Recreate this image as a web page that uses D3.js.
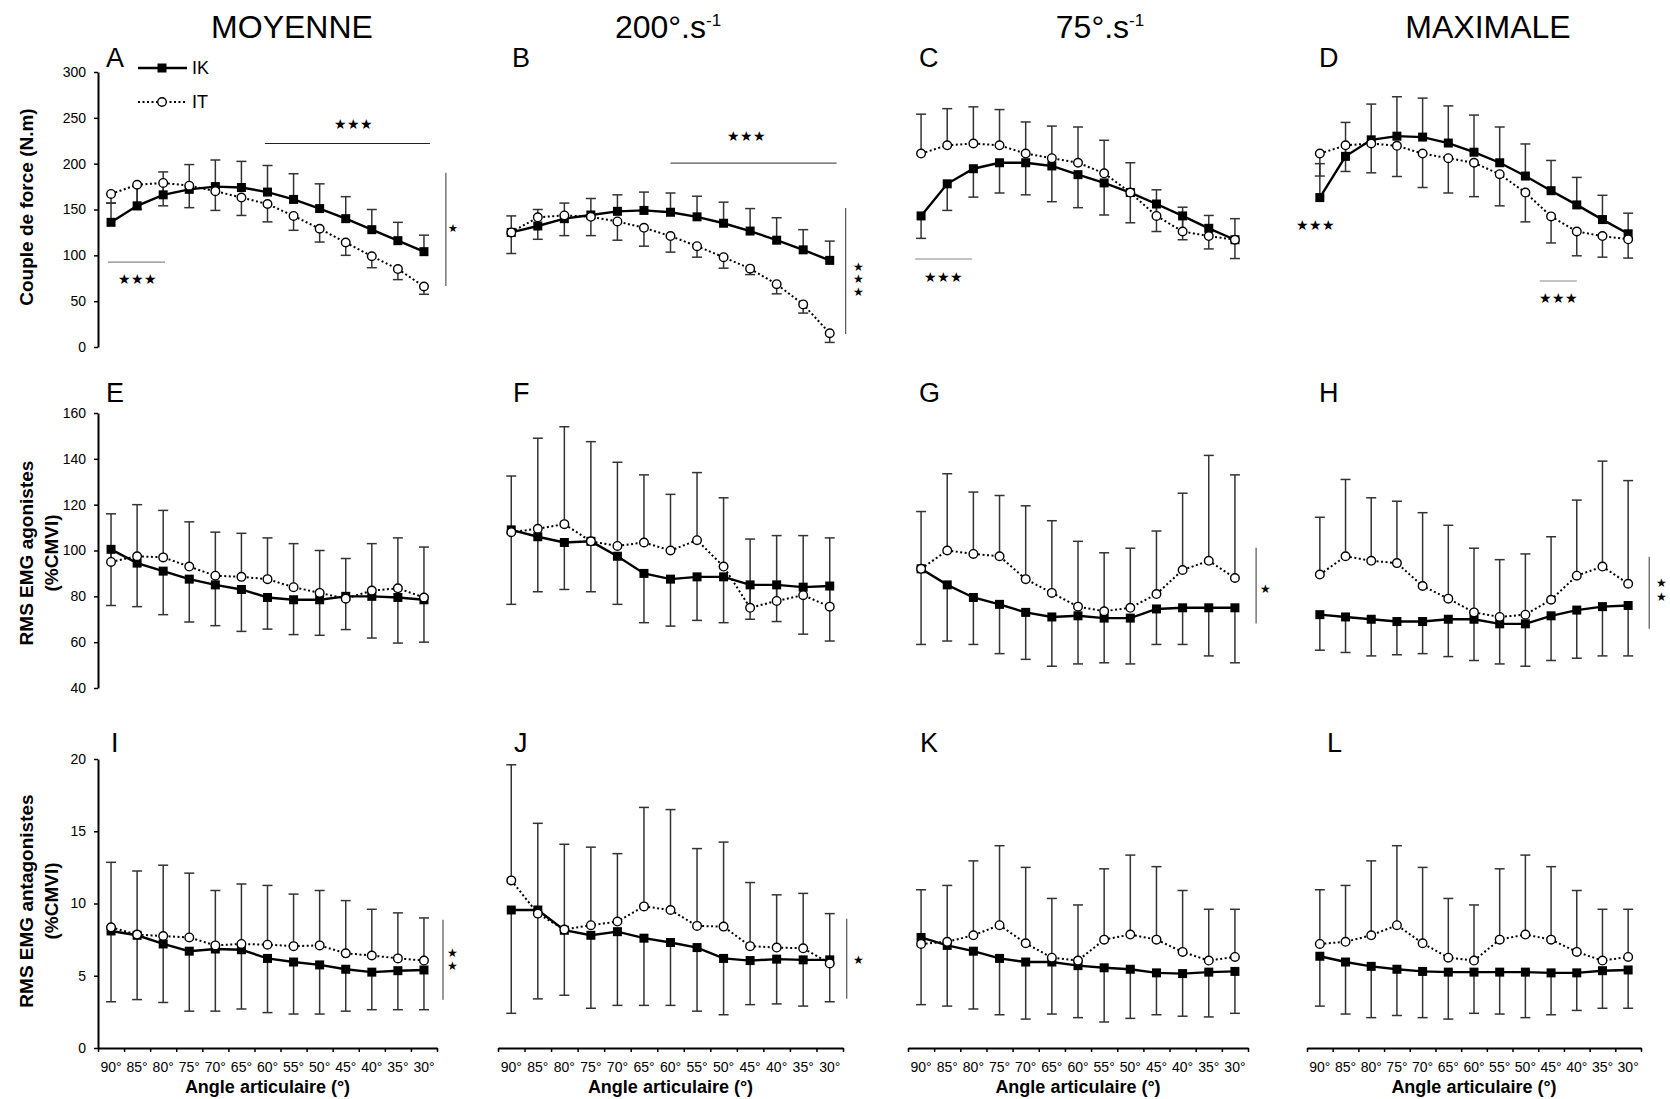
<!DOCTYPE html>
<html>
<head>
<meta charset="utf-8">
<script src="https://cdn.jsdelivr.net/npm/d3@7"></script>
<style>
  html, body { margin: 0; padding: 0; background: #fff; }
  svg text { font-family: "Liberation Sans", Arial, Helvetica, sans-serif; fill: #000; }
</style>
</head>
<body>
<svg id="fig" width="1670" height="1099"></svg>
<script>
// ---------- categories & labels ----------
const angles = ["90°", "85°", "80°", "75°", "70°", "65°", "60°", "55°", "50°", "45°", "40°", "35°", "30°"];
const columnTitles = [
  { main: "MOYENNE", sup: "" },
  { main: "200°.s", sup: "-1" },
  { main: "75°.s", sup: "-1" },
  { main: "MAXIMALE", sup: "" }
];
const panelLetters = ["A", "B", "C", "D", "E", "F", "G", "H", "I", "J", "K", "L"];
const torqueTicks = [0, 50, 100, 150, 200, 250, 300];
const agonistTicks = [40, 60, 80, 100, 120, 140, 160];
const antagonistTicks = [0, 5, 10, 15, 20];
const seriesNames = ["IK", "IT"];

// ---------- Couple de force (N.m) ----------
const ikA    = [136, 154, 166, 172, 175, 174, 169, 161, 151, 140, 128, 116, 104];
const ikA_sd = [21, 22, 25, 27, 29, 28.5, 29, 28, 27, 24, 22, 20, 18];
const itA    = [167, 177, 179, 176, 170, 163, 156, 143, 129, 114, 99, 85, 66];
const itA_sd = [10, 27, 25, 24, 21, 19.5, 19.5, 15.7, 14.5, 14, 12.5, 11.5, 8.5];

const ikB    = [125, 132, 140, 144, 148, 149, 147, 142, 135, 126.5, 116.5, 106, 94.5];
const ikB_sd = [18, 18, 17, 18, 18, 20, 21, 22.5, 23, 24.5, 24.5, 22, 21];
const itB    = [125, 141.5, 143.5, 142, 137, 130, 121, 110, 98, 85.5, 68.5, 46.5, 15];
const itB_sd = [23, 24, 22, 20.5, 20.5, 20, 17.5, 12, 12, 6.5, 10.5, 9.5, 10];

const ikC    = [143, 178, 194.5, 201, 201, 197.5, 188, 179, 168.5, 156, 143, 129.5, 117];
const ikC_sd = [24.5, 29, 31, 33, 35, 39, 36, 35, 33, 30, 26, 22.5, 20.5];
const itC    = [211, 220, 222, 220, 211, 206, 201, 189.5, 168.5, 143, 126, 121, 117];
const itC_sd = [43, 40, 40, 39, 34.5, 35, 39, 36, 32.5, 28.5, 26.5, 22.5, 23];

const ikD    = [163, 208, 226, 230, 229, 222.5, 212.5, 201, 186.5, 170.5, 155, 139, 123.5];
const ikD_sd = [37, 37, 39, 43, 42.5, 40.5, 40.5, 39, 35, 33, 30, 26.5, 22.5];
const itD    = [211, 220, 222, 219.5, 211, 206, 201, 188.5, 168.5, 142.5, 126, 121, 117.5];
const itD_sd = [24.5, 28.5, 32, 33.5, 37, 38, 37, 34.5, 32, 29, 26.5, 23, 20.5];

// ---------- RMS EMG agonistes (%CMVI) ----------
const ikE    = [100.5, 94.5, 91, 87.5, 85, 83, 79.5, 78.5, 78.5, 80, 80, 79.5, 78.5];
const ikE_sd = [24.5, 19, 19, 18.7, 17.8, 18.3, 13.8, 15.2, 15.5, 14.5, 18.2, 19.9, 18.5];
const itE    = [95, 97.5, 97, 93, 89, 88.5, 87.5, 84, 81.5, 79, 82.5, 83.5, 79.5];
const itE_sd = [21, 22.5, 20.5, 19.5, 19, 19, 18, 19, 18.5, 17.5, 20.5, 22, 22];

const ikF    = [109, 106, 103.5, 104, 97.5, 90, 87.5, 88.5, 88.5, 85, 85, 84, 84.5];
const ikF_sd = [32.5, 24, 20.5, 22, 21, 21.5, 20.5, 19, 20, 15, 16, 20.5, 24];
const itF    = [108, 109.5, 111.5, 104, 102, 103.5, 100, 104.5, 93, 75, 78, 80.5, 75.5];
const itF_sd = [24.5, 39.5, 42.5, 43.5, 36.5, 29.5, 24.5, 29.5, 30, 30, 28.5, 26, 30];

const ikG    = [92, 85, 79.5, 76.5, 73, 71, 71.5, 70.5, 70.5, 74.5, 75, 75, 75];
const ikG_sd = [33, 24.5, 20.5, 21.5, 20.5, 21.5, 21, 19.5, 20, 15.5, 16, 21, 24];
const itG    = [92, 100, 98.5, 97.5, 87.5, 81.5, 75.5, 73.5, 75, 81, 91.5, 95.5, 88];
const itG_sd = [25, 33.5, 27, 26.5, 32, 31.5, 28.5, 25.5, 26, 27.5, 33.5, 46, 45];

const ikH    = [72, 71, 70, 69, 69, 70, 70, 68, 68, 71.5, 74, 75.5, 76];
const ikH_sd = [15.5, 15.5, 16, 14.5, 14, 16.3, 18, 17.5, 18.5, 19.5, 21, 21.5, 22];
const itH    = [89.5, 97.5, 95.5, 94.5, 84.5, 79, 73, 71, 72, 78.5, 89, 93, 85.5];
const itH_sd = [25, 33.5, 27.5, 27, 32, 32, 28, 25, 26.5, 27.5, 33, 46, 45];

// ---------- RMS EMG antagonistes (%CMVI) ----------
const ikI    = [8.1, 7.8, 7.2, 6.7, 6.85, 6.8, 6.2, 5.95, 5.75, 5.45, 5.25, 5.35, 5.4];
const ikI_sd = [4.9, 4.45, 4.05, 4.15, 4.3, 4.1, 3.75, 3.6, 3.4, 2.9, 2.6, 2.7, 2.75];
const itI    = [8.35, 7.85, 7.75, 7.65, 7.1, 7.2, 7.15, 7.05, 7.1, 6.55, 6.4, 6.2, 6.05];
const itI_sd = [4.5, 4.4, 4.9, 4.45, 3.8, 4.15, 4.1, 3.6, 3.8, 3.65, 3.2, 3.15, 2.95];

const ikJ    = [9.55, 9.55, 8.15, 7.8, 8.05, 7.6, 7.3, 6.95, 6.2, 6.05, 6.15, 6.1, 6.1];
const ikJ_sd = [7.15, 6.15, 4.5, 5.05, 5.1, 4.65, 4.35, 4.4, 3.9, 3.05, 3.1, 3.2, 2.9];
const itJ    = [11.6, 9.3, 8.2, 8.5, 8.75, 9.8, 9.55, 8.45, 8.4, 7.05, 6.95, 6.9, 5.85];
const itJ_sd = [8.0, 6.25, 5.9, 5.4, 4.7, 6.85, 6.95, 5.35, 5.85, 4.4, 3.65, 3.8, 3.45];

const ikK    = [7.65, 7.1, 6.7, 6.2, 5.95, 5.95, 5.7, 5.55, 5.45, 5.2, 5.15, 5.25, 5.3];
const ikK_sd = [4.65, 4.2, 4.0, 3.9, 3.95, 3.6, 3.6, 3.75, 3.4, 2.9, 2.95, 3.1, 2.9];
const itK    = [7.2, 7.35, 7.8, 8.5, 7.25, 6.25, 6.05, 7.5, 7.85, 7.5, 6.65, 6.05, 6.3];
const itK_sd = [3.75, 3.9, 5.15, 5.5, 5.25, 4.1, 3.85, 4.9, 5.5, 5.05, 4.25, 3.55, 3.3];

const ikL    = [6.35, 5.95, 5.65, 5.45, 5.3, 5.25, 5.25, 5.25, 5.25, 5.2, 5.2, 5.35, 5.4];
const ikL_sd = [3.45, 3.6, 3.55, 3.2, 3.2, 3.25, 2.85, 2.9, 3.15, 2.9, 2.6, 2.6, 2.65];
const itL    = [7.2, 7.35, 7.8, 8.5, 7.25, 6.25, 6.05, 7.5, 7.85, 7.5, 6.65, 6.05, 6.3];
const itL_sd = [3.75, 3.9, 5.15, 5.5, 5.25, 4.1, 3.85, 4.9, 5.5, 5.05, 4.25, 3.55, 3.3];

// ---------- significance marks (x in angle-index units, y in data units) ----------
const sigA = [
  { kind: "h", i0: 5.9, i1: 12.23, v: 222, color: "#222" },
  { kind: "s", i: 9.3, v: 243, text: "★★★", size: 14 },
  { kind: "h", i0: -0.12, i1: 2.07, v: 92.7, color: "#888" },
  { kind: "s", i: 1.0, v: 74, text: "★★★", size: 14 },
  { kind: "v", i: 12.84, v0: 190, v1: 66.5 },
  { kind: "s", i: 13.1, v: 130, text: "★", size: 11 }
];
const sigB = [
  { kind: "h", i0: 6.0, i1: 12.26, v: 200.7, color: "#555" },
  { kind: "s", i: 8.88, v: 230, text: "★★★", size: 14 },
  { kind: "v", i: 12.6, v0: 151.6, v1: 14.2 },
  { kind: "s", i: 13.1, v: 87.3, text: "★", size: 12 },
  { kind: "s", i: 13.1, v: 74.2, text: "★", size: 12 },
  { kind: "s", i: 13.1, v: 60.5, text: "★", size: 12 }
];
const sigC = [
  { kind: "h", i0: -0.23, i1: 1.95, v: 96, color: "#888" },
  { kind: "s", i: 0.84, v: 76.4, text: "★★★", size: 14 }
];
const sigD = [
  { kind: "s", i: -0.15, v: 133, text: "★★★", size: 14 },
  { kind: "h", i0: 8.56, i1: 10.0, v: 72, color: "#888" },
  { kind: "s", i: 9.27, v: 53.5, text: "★★★", size: 14 }
];
const sigG = [
  { kind: "v", i: 12.81, v0: 101.2, v1: 68.1 },
  { kind: "s", i: 13.18, v: 83.3, text: "★", size: 12 }
];
const sigH = [
  { kind: "v", i: 12.82, v0: 97.3, v1: 65.9 },
  { kind: "s", i: 13.3, v: 86, text: "★", size: 12 },
  { kind: "s", i: 13.3, v: 79.8, text: "★", size: 12 }
];
const sigI = [
  { kind: "v", i: 12.73, v0: 8.88, v1: 3.34 },
  { kind: "s", i: 13.1, v: 6.6, text: "★", size: 12 },
  { kind: "s", i: 13.1, v: 5.7, text: "★", size: 12 }
];
const sigJ = [
  { kind: "v", i: 12.64, v0: 8.95, v1: 3.41 },
  { kind: "s", i: 13.1, v: 6.11, text: "★", size: 12 }
];

// ---------- layout ----------
const FONT = '"Liberation Sans", Arial, Helvetica, sans-serif';
const STAR_FONT = '"DejaVu Sans", sans-serif';
const colRanges = [[98, 437], [498, 843], [908, 1248], [1307, 1641]];
const titleX = [292, 668, 1100, 1488];
const rows = [
  { domain: [0, 300], range: [347, 72], ticks: torqueTicks, title: ["Couple de force (N.m)"], titleY: 207 },
  { domain: [40, 160], range: [688, 413], ticks: agonistTicks, title: ["RMS EMG agonistes", "(%CMVI)"], titleY: 553 },
  { domain: [0, 20], range: [1048, 759], ticks: antagonistTicks, title: ["RMS EMG antagonistes", "(%CMVI)"], titleY: 901 }
];
const letterPos = [
  [106, 67], [512, 67], [919, 67], [1319, 67],
  [106, 402], [513, 402], [919, 402], [1319, 402],
  [111, 752], [514, 752], [920, 752], [1327, 752]
];

const panels = [
  { row: 0, col: 0, ik: ikA, ikSd: ikA_sd, it: itA, itSd: itA_sd, ikUp: true,  sig: sigA },
  { row: 0, col: 1, ik: ikB, ikSd: ikB_sd, it: itB, itSd: itB_sd, ikUp: true,  sig: sigB },
  { row: 0, col: 2, ik: ikC, ikSd: ikC_sd, it: itC, itSd: itC_sd, ikUp: false, sig: sigC },
  { row: 0, col: 3, ik: ikD, ikSd: ikD_sd, it: itD, itSd: itD_sd, ikUp: true,  sig: sigD },
  { row: 1, col: 0, ik: ikE, ikSd: ikE_sd, it: itE, itSd: itE_sd, ikUp: false, sig: [] },
  { row: 1, col: 1, ik: ikF, ikSd: ikF_sd, it: itF, itSd: itF_sd, ikUp: false, sig: [] },
  { row: 1, col: 2, ik: ikG, ikSd: ikG_sd, it: itG, itSd: itG_sd, ikUp: false, sig: sigG },
  { row: 1, col: 3, ik: ikH, ikSd: ikH_sd, it: itH, itSd: itH_sd, ikUp: false, sig: sigH },
  { row: 2, col: 0, ik: ikI, ikSd: ikI_sd, it: itI, itSd: itI_sd, ikUp: false, sig: sigI },
  { row: 2, col: 1, ik: ikJ, ikSd: ikJ_sd, it: itJ, itSd: itJ_sd, ikUp: false, sig: sigJ },
  { row: 2, col: 2, ik: ikK, ikSd: ikK_sd, it: itK, itSd: itK_sd, ikUp: false, sig: [] },
  { row: 2, col: 3, ik: ikL, ikSd: ikL_sd, it: itL, itSd: itL_sd, ikUp: false, sig: [] }
];

const svg = d3.select("#fig");

// column titles
columnTitles.forEach((t, c) => {
  const tx = svg.append("text")
    .attr("x", titleX[c]).attr("y", 38)
    .attr("text-anchor", "middle")
    .attr("font-size", 32)
    .text(t.main);
  if (t.sup) tx.append("tspan").attr("font-size", 17).attr("dy", -12).text(t.sup);
});

// row axis titles (left)
rows.forEach(r => {
  r.title.forEach((line, k) => {
    svg.append("text")
      .attr("transform", `translate(${k === 0 ? 33 : 58},${r.titleY}) rotate(-90)`)
      .attr("text-anchor", "middle")
      .attr("font-size", 19)
      .attr("font-weight", "bold")
      .text(line);
  });
});

const squareSize = 9;
const circleR = 4.3;

panels.forEach((p, idx) => {
  const r = rows[p.row];
  const [xa, xb] = colRanges[p.col];
  const x = d3.scaleBand().domain(angles).range([xa, xb]);
  const xi = d3.scaleLinear().domain([-0.5, 12.5]).range([xa, xb]);
  const y = d3.scaleLinear().domain(r.domain).range(r.range);
  const cx = i => x(angles[i]) + x.bandwidth() / 2;
  const g = svg.append("g");

  // panel letter
  svg.append("text")
    .attr("x", letterPos[idx][0]).attr("y", letterPos[idx][1])
    .attr("font-size", 27)
    .text(panelLetters[idx]);

  // y axis (first column only)
  if (p.col === 0) {
    const ay = g.append("g").attr("transform", `translate(${xa},0)`)
      .call(d3.axisLeft(y).tickValues(r.ticks).tickSize(4).tickSizeOuter(0).tickPadding(8));
    ay.select(".domain").attr("stroke", "#000").attr("stroke-width", 2);
    ay.selectAll(".tick line").attr("stroke", "#000").attr("stroke-width", 1.5);
    ay.selectAll("text").attr("font-size", 14).attr("font-family", FONT).attr("fill", "#222");
  }

  // x axis (bottom row only)
  if (p.row === 2) {
    const base = r.range[0];
    const lab = g.append("g").attr("transform", `translate(0,${base})`)
      .call(d3.axisBottom(x).tickSize(0).tickPadding(14));
    lab.select(".domain").remove();
    lab.selectAll("text").attr("font-size", 14).attr("font-family", FONT).attr("fill", "#222");
    const tk = g.append("g").attr("transform", `translate(0,${base})`)
      .call(d3.axisBottom(xi).tickValues(d3.range(-0.5, 13, 1)).tickFormat("").tickSize(4).tickSizeOuter(0));
    tk.select(".domain").attr("stroke", "#000").attr("stroke-width", 2);
    tk.selectAll(".tick line").attr("stroke", "#000").attr("stroke-width", 1.5);
    svg.append("text")
      .attr("x", (xa + xb) / 2).attr("y", 1093)
      .attr("text-anchor", "middle")
      .attr("font-size", 18).attr("font-weight", "bold")
      .text("Angle articulaire (°)");
  }

  // error bars: one direction per series
  const bars = [];
  p.ik.forEach((v, i) => bars.push({ i, v, e: v + (p.ikUp ? 1 : -1) * p.ikSd[i] }));
  p.it.forEach((v, i) => bars.push({ i, v, e: v + (p.ikUp ? -1 : 1) * p.itSd[i] }));
  const eb = g.append("g").attr("stroke", "#333").attr("stroke-width", 1.5);
  eb.selectAll("line.stem").data(bars).join("line").attr("class", "stem")
    .attr("x1", d => cx(d.i)).attr("x2", d => cx(d.i))
    .attr("y1", d => y(d.v)).attr("y2", d => y(d.e));
  eb.selectAll("line.cap").data(bars).join("line").attr("class", "cap")
    .attr("x1", d => cx(d.i) - 5).attr("x2", d => cx(d.i) + 5)
    .attr("y1", d => y(d.e)).attr("y2", d => y(d.e));

  // series lines
  const line = d3.line().x((d, i) => cx(i)).y(d => y(d));
  g.append("path").datum(p.ik).attr("d", line)
    .attr("fill", "none").attr("stroke", "#000").attr("stroke-width", 2.4);
  g.append("path").datum(p.it).attr("d", line)
    .attr("fill", "none").attr("stroke", "#000").attr("stroke-width", 2)
    .attr("stroke-dasharray", "2,2.5");

  // markers
  g.selectAll("rect.ik").data(p.ik).join("rect").attr("class", "ik")
    .attr("x", (d, i) => cx(i) - squareSize / 2).attr("y", d => y(d) - squareSize / 2)
    .attr("width", squareSize).attr("height", squareSize).attr("fill", "#000");
  g.selectAll("circle.it").data(p.it).join("circle").attr("class", "it")
    .attr("cx", (d, i) => cx(i)).attr("cy", d => y(d)).attr("r", circleR)
    .attr("fill", "#fff").attr("stroke", "#000").attr("stroke-width", 1.4);

  // significance marks
  p.sig.forEach(s => {
    if (s.kind === "h") {
      g.append("line").attr("x1", xi(s.i0)).attr("x2", xi(s.i1))
        .attr("y1", y(s.v)).attr("y2", y(s.v))
        .attr("stroke", s.color).attr("stroke-width", 1.2);
    } else if (s.kind === "v") {
      g.append("line").attr("x1", xi(s.i)).attr("x2", xi(s.i))
        .attr("y1", y(s.v0)).attr("y2", y(s.v1))
        .attr("stroke", "#555").attr("stroke-width", 1.2);
    } else {
      g.append("text").attr("x", xi(s.i)).attr("y", y(s.v))
        .attr("text-anchor", "middle").attr("dominant-baseline", "central")
        .attr("font-family", STAR_FONT).attr("font-size", s.size)
        .text(s.text);
    }
  });

  // legend in the first panel
  if (idx === 0) {
    const ly = [r.range[1] - 4, r.range[1] + 30];
    const lx0 = xa + 40, lx1 = xa + 89, lm = xa + 64;
    const lg = svg.append("g");
    lg.append("line").attr("x1", lx0).attr("x2", lx1).attr("y1", ly[0]).attr("y2", ly[0])
      .attr("stroke", "#000").attr("stroke-width", 2.4);
    lg.append("rect").attr("x", lm - squareSize / 2).attr("y", ly[0] - squareSize / 2)
      .attr("width", squareSize).attr("height", squareSize).attr("fill", "#000");
    lg.append("line").attr("x1", lx0).attr("x2", lx1).attr("y1", ly[1]).attr("y2", ly[1])
      .attr("stroke", "#000").attr("stroke-width", 2).attr("stroke-dasharray", "2,2.5");
    lg.append("circle").attr("cx", lm).attr("cy", ly[1]).attr("r", circleR)
      .attr("fill", "#fff").attr("stroke", "#000").attr("stroke-width", 1.4);
    seriesNames.forEach((n, k) => {
      lg.append("text").attr("x", xa + 94).attr("y", ly[k])
        .attr("dominant-baseline", "central").attr("font-size", 18).text(n);
    });
  }
});
</script>
</body>
</html>
